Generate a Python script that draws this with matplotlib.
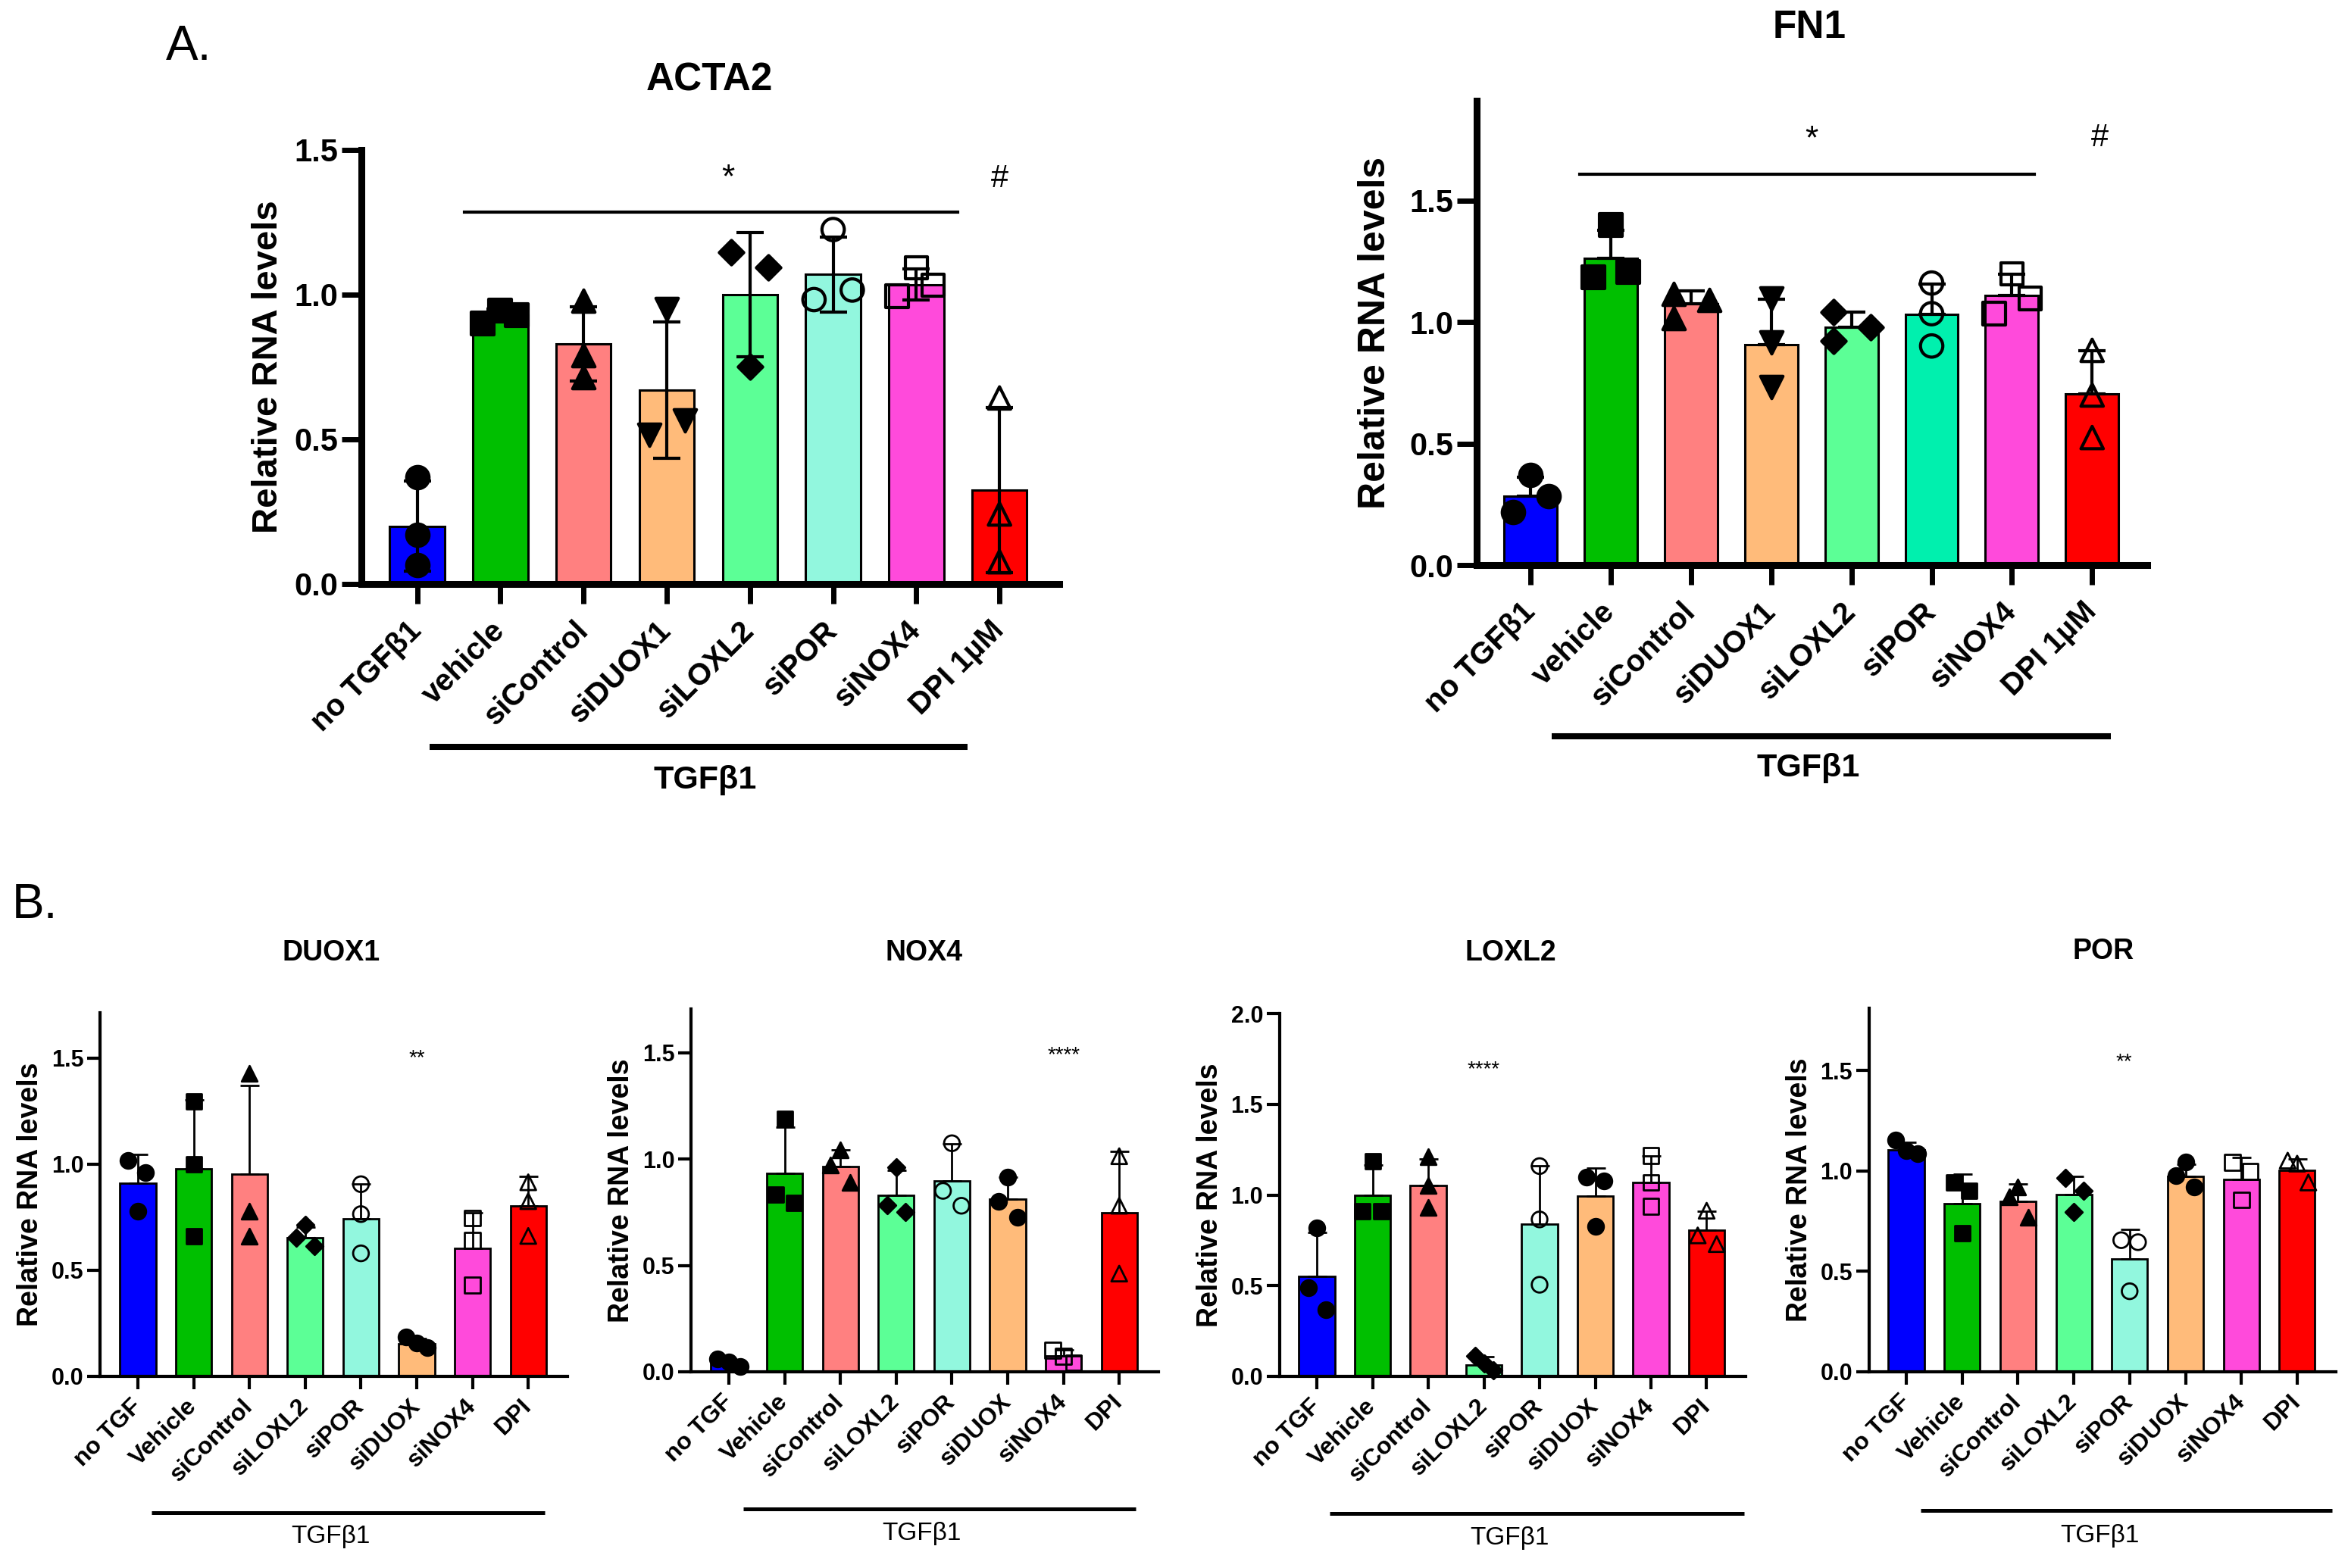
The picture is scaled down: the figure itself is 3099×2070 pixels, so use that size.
import matplotlib
matplotlib.use('Agg')
import matplotlib.pyplot as plt
import numpy as np

W, H = 3099, 2070

plt.rcParams['font.family'] = ['Liberation Sans', 'DejaVu Sans']

# ---------------- data ----------------
a_labels = ['no TGFβ1', 'vehicle', 'siControl', 'siDUOX1', 'siLOXL2', 'siPOR', 'siNOX4', 'DPI 1µM']
b_labels = ['no TGF', 'Vehicle', 'siControl', 'siLOXL2', 'siPOR', 'siDUOX', 'siNOX4', 'DPI']

acta2_mean = [0.20, 0.93, 0.83, 0.67, 1.00, 1.07, 1.035, 0.325]
acta2_sd = [0.155, 0.02, 0.128, 0.236, 0.215, 0.13, 0.053, 0.285]
acta2_pts = [[0.37, 0.17, 0.066], [0.90, 0.945, 0.93], [0.978, 0.79, 0.714], [0.95, 0.516, 0.566],
             [1.146, 1.093, 0.75], [1.225, 0.983, 1.016], [0.995, 1.093, 1.033], [0.643, 0.242, 0.077]]

fn1_mean = [0.284, 1.263, 1.077, 0.906, 0.979, 1.031, 1.11, 0.704]
fn1_sd = [0.077, 0.115, 0.053, 0.188, 0.063, 0.127, 0.086, 0.18]
fn1_pts = [[0.37, 0.217, 0.284], [1.40, 1.185, 1.206], [1.115, 1.09, 1.018], [1.098, 0.916, 0.734],
           [1.042, 0.979, 0.923], [1.161, 1.035, 0.902], [1.199, 1.098, 1.035], [0.884, 0.70, 0.525]]

duox1_mean = [0.911, 0.979, 0.955, 0.654, 0.743, 0.152, 0.602, 0.804]
duox1_sd = [0.134, 0.323, 0.418, 0.05, 0.163, 0.026, 0.168, 0.138]
duox1_pts = [[1.019, 0.96, 0.778], [1.295, 1.0, 0.662], [1.428, 0.78, 0.662], [0.714, 0.654, 0.613],
             [0.906, 0.765, 0.58], [0.186, 0.156, 0.134], [0.746, 0.642, 0.431], [0.915, 0.826, 0.662]]

nox4_mean = [0.04, 0.932, 0.966, 0.829, 0.897, 0.811, 0.075, 0.747]
nox4_sd = [0.016, 0.22, 0.077, 0.118, 0.176, 0.104, 0.03, 0.289]
nox4_pts = [[0.062, 0.047, 0.025], [1.189, 0.833, 0.796], [1.043, 0.971, 0.892], [0.962, 0.784, 0.751],
            [1.075, 0.851, 0.781], [0.917, 0.803, 0.725], [0.102, 0.073, 0.043], [1.014, 0.781, 0.462]]

loxl2_mean = [0.553, 0.998, 1.054, 0.064, 0.838, 0.994, 1.069, 0.806]
loxl2_sd = [0.24, 0.168, 0.146, 0.043, 0.321, 0.155, 0.144, 0.103]
loxl2_pts = [[0.817, 0.489, 0.369], [1.187, 0.91, 0.91], [1.211, 1.054, 0.93], [0.112, 0.072, 0.032],
             [1.159, 0.865, 0.505], [1.098, 1.077, 0.825], [1.218, 1.069, 0.938], [0.913, 0.777, 0.729]]

por_mean = [1.104, 0.838, 0.848, 0.881, 0.561, 0.971, 0.959, 1.003]
por_sd = [0.038, 0.145, 0.087, 0.09, 0.149, 0.061, 0.106, 0.058]
por_pts = [[1.152, 1.101, 1.087], [0.942, 0.901, 0.688], [0.92, 0.872, 0.768], [0.964, 0.901, 0.797],
           [0.655, 0.645, 0.401], [1.043, 0.978, 0.92], [1.043, 0.996, 0.855], [1.051, 1.036, 0.942]]

# horizontal scatter of the replicate points (bar units)
acta2_jit = [[0, 0, 0], [-0.21, 0, 0.2], [0, 0, 0], [0, -0.21, 0.22], [-0.23, 0.22, 0], [0, -0.23, 0.23], [-0.23, 0, 0.2], [0, 0, 0]]
fn1_jit = [[0, -0.22, 0.23], [0, -0.22, 0.22], [-0.22, 0.23, -0.22], [0, 0, 0], [-0.22, 0.24, -0.22], [0, 0, 0], [0, 0.23, -0.22], [0, 0, 0]]
duox1_jit = [[-0.18, 0.14, 0], [0, 0, 0], [0, 0, 0], [0, -0.16, 0.17], [0, 0, 0], [-0.19, 0, 0.19], [0, 0, 0], [0, 0, 0]]
nox4_jit = [[-0.2, 0, 0.2], [0, -0.16, 0.17], [0, -0.18, 0.17], [0, -0.16, 0.17], [0, -0.16, 0.17], [0, -0.16, 0.17], [-0.19, 0, 0.18], [0, 0, 0]]
loxl2_jit = [[0, -0.15, 0.17], [0, -0.18, 0.16], [0, 0, 0], [-0.15, 0, 0.17], [0, 0, 0], [-0.15, 0.15, 0], [0, 0, 0], [0, -0.16, 0.18]]
por_jit = [[-0.19, 0, 0.21], [-0.15, 0.13, 0], [0, -0.15, 0.18], [-0.15, 0.18, 0], [-0.15, 0.15, 0], [0, -0.17, 0.16], [-0.16, 0.16, 0], [-0.17, 0, 0.2]]

colors_a = ['#0000FF', '#00BF00', '#FF8080', '#FFBB7A', '#5CFF96', '#92F7DE', '#FF4ADB', '#FF0000']
colors_fn1 = ['#0000FF', '#00BF00', '#FF8080', '#FFBB7A', '#5CFF96', '#00F0AE', '#FF4ADB', '#FF0000']
colors_b = ['#0000FF', '#00BF00', '#FF8080', '#5CFF96', '#92F7DE', '#FFBB7A', '#FF4ADB', '#FF0000']
markers_a = ['o', 's', '^', 'v', 'D', 'o', 's', '^']
filled_a = [True, True, True, True, True, False, False, False]
markers_b = ['o', 's', '^', 'D', 'o', 'o', 's', '^']
filled_b = [True, True, True, True, False, True, False, False]

BIG = dict(bw=0.66, edge=2.2, spine=6.5, tlen=19, twid=5, ytick=30, xtick=29, ylab=34,
           cap=13, elw=3, ms=450, mlw=3, grp=5.8, grpfs=31)
SMALL = dict(bw=0.64, edge=2.0, spine=3, tlen=12, twid=3, ytick=22, xtick=23, ylab=27,
             cap=9, elw=2, ms=220, mlw=2, grp=3.6, grpfs=24)

fig = plt.figure(figsize=(W / 100, H / 100), dpi=100)


def make_ax(x0, sp, xlo, xhi, y0, ppu, ytop):
    left = x0 + xlo * sp
    right = x0 + xhi * sp
    top = y0 - ytop * ppu
    ax = fig.add_axes([left / W, 1 - y0 / H, (right - left) / W, (y0 - top) / H])
    ax.set_xlim(xlo, xhi)
    ax.set_ylim(0, ytop)
    return ax


def panel(ax, mean, sd, pts, jit, colors, markers, filled, labels, st, yticks, both=False):
    x = np.arange(len(mean))
    ax.bar(x, mean, width=st['bw'], color=colors, edgecolor='black', linewidth=st['edge'], zorder=2)
    sd = np.array(sd)
    yerr = [sd, sd] if both else [np.zeros_like(sd), sd]
    ax.errorbar(x, mean, yerr=yerr, fmt='none', ecolor='black', elinewidth=st['elw'],
                capsize=st['cap'], capthick=st['elw'], zorder=3)
    for i in x:
        s = st['ms'] * (0.6 if markers[i] == 'D' else 1.0)
        ax.scatter(i + np.array(jit[i]), pts[i], marker=markers[i], s=s,
                   facecolor='black' if filled[i] else 'none', edgecolor='black',
                   linewidth=st['mlw'], zorder=4, clip_on=False)
    for side in ['top', 'right']:
        ax.spines[side].set_visible(False)
    for side in ['left', 'bottom']:
        ax.spines[side].set_linewidth(st['spine'])
    ax.set_yticks(yticks)
    ax.set_yticklabels(['{:.1f}'.format(v) for v in yticks], fontsize=st['ytick'], fontweight='bold')
    ax.set_xticks(x)
    ax.set_xticklabels(labels, rotation=45, ha='right', va='center', rotation_mode='anchor',
                       fontsize=st['xtick'], fontweight='bold')
    ax.tick_params(axis='both', length=st['tlen'], width=st['twid'], direction='out')
    ax.tick_params(axis='x', pad=st['tlen'] * 1.1)
    ax.set_ylabel('Relative RNA levels', fontsize=st['ylab'], fontweight='bold')


def group(ax, x1, x2, y, ty, st, weight):
    ax.plot([x1, x2], [y, y], color='black', linewidth=st['grp'], solid_capstyle='butt', clip_on=False)
    ax.text(3.46, ty, 'TGFβ1', ha='center', va='center', fontsize=st['grpfs'], fontweight=weight)


# ---------------- panel A ----------------
ax1 = make_ax(550.6, 109.8, -0.67, 7.72, 771, 382, 1.5)
panel(ax1, acta2_mean, acta2_sd, acta2_pts, acta2_jit, colors_a, markers_a, filled_a, a_labels,
      BIG, [0, 0.5, 1.0, 1.5], both=True)
ax1.yaxis.set_label_coords(-0.110, 0.5)
ax1.plot([0.57, 6.5], [1.286, 1.286], color='black', linewidth=3, clip_on=False)
ax1.text(3.74, 1.40, '*', ha='center', va='center', fontsize=32)
ax1.text(7.0, 1.40, '#', ha='center', va='center', fontsize=30)
group(ax1, 0.15, 6.62, -0.563, -0.678, BIG, 'bold')

ax2 = make_ax(2020, 105.9, -0.67, 7.69, 746, 320.7, 1.91)
panel(ax2, fn1_mean, fn1_sd, fn1_pts, fn1_jit, colors_fn1, markers_a, filled_a, a_labels,
      BIG, [0, 0.5, 1.0, 1.5])
ax2.yaxis.set_label_coords(-0.125, 0.5)
ax2.yaxis.label.set_fontsize(36)
ax2.plot([0.61, 6.28], [1.61, 1.61], color='black', linewidth=3, clip_on=False)
ax2.text(3.5, 1.75, '*', ha='center', va='center', fontsize=32)
ax2.text(7.1, 1.76, '#', ha='center', va='center', fontsize=30)
group(ax2, 0.26, 7.23, -0.705, -0.836, BIG, 'bold')

fig.text(936 / W, 1 - 106 / H, 'ACTA2', ha='center', va='center', fontsize=37, fontweight='bold')
fig.text(2388 / W, 1 - 37 / H, 'FN1', ha='center', va='center', fontsize=37, fontweight='bold')
fig.text(219 / W, 1 - 62 / H, 'A.', ha='left', va='center', fontsize=46)

# ---------------- panel B ----------------
ax3 = make_ax(182, 73.6, -0.68, 7.71, 1817, 280, 1.714)
panel(ax3, duox1_mean, duox1_sd, duox1_pts, duox1_jit, colors_b, markers_b, filled_b, b_labels,
      SMALL, [0, 0.5, 1.0, 1.5])
ax3.text(5, 1.5, '**', ha='center', va='center', fontsize=20)
group(ax3, 0.24, 7.3, -0.643, -0.755, SMALL, 'normal')

ax4 = make_ax(962, 73.6, -0.68, 7.71, 1811, 280.7, 1.707)
panel(ax4, nox4_mean, nox4_sd, nox4_pts, nox4_jit, colors_b, markers_b, filled_b, b_labels,
      SMALL, [0, 0.5, 1.0, 1.5])
ax4.text(6, 1.49, '****', ha='center', va='center', fontsize=20)
group(ax4, 0.26, 7.29, -0.645, -0.762, SMALL, 'normal')

ax5 = make_ax(1738, 73.5, -0.67, 7.70, 1817, 239.5, 2.0)
panel(ax5, loxl2_mean, loxl2_sd, loxl2_pts, loxl2_jit, colors_b, markers_b, filled_b, b_labels,
      SMALL, [0, 0.5, 1.0, 1.5, 2.0])
ax5.text(3, 1.69, '****', ha='center', va='center', fontsize=20)
group(ax5, 0.23, 7.67, -0.755, -0.89, SMALL, 'normal')

ax6 = make_ax(2516, 73.7, -0.67, 7.69, 1811, 265.3, 1.81)
panel(ax6, por_mean, por_sd, por_pts, por_jit, colors_b, markers_b, filled_b, b_labels,
      SMALL, [0, 0.5, 1.0, 1.5])
ax6.text(3.9, 1.54, '**', ha='center', va='center', fontsize=20)
group(ax6, 0.26, 7.62, -0.69, -0.815, SMALL, 'normal')

for ax in [ax3, ax4, ax5, ax6]:
    ax.yaxis.set_label_coords(-0.12, 0.5)

for cx, cy, txt in [(437, 1258, 'DUOX1'), (1220, 1258, 'NOX4'), (1994, 1258, 'LOXL2'), (2776, 1256, 'POR')]:
    fig.text(cx / W, 1 - cy / H, txt, ha='center', va='center', fontsize=27, fontweight='bold')
fig.text(16 / W, 1 - 1195 / H, 'B.', ha='left', va='center', fontsize=46)

fig.savefig('out.png', dpi=100, facecolor='white')
